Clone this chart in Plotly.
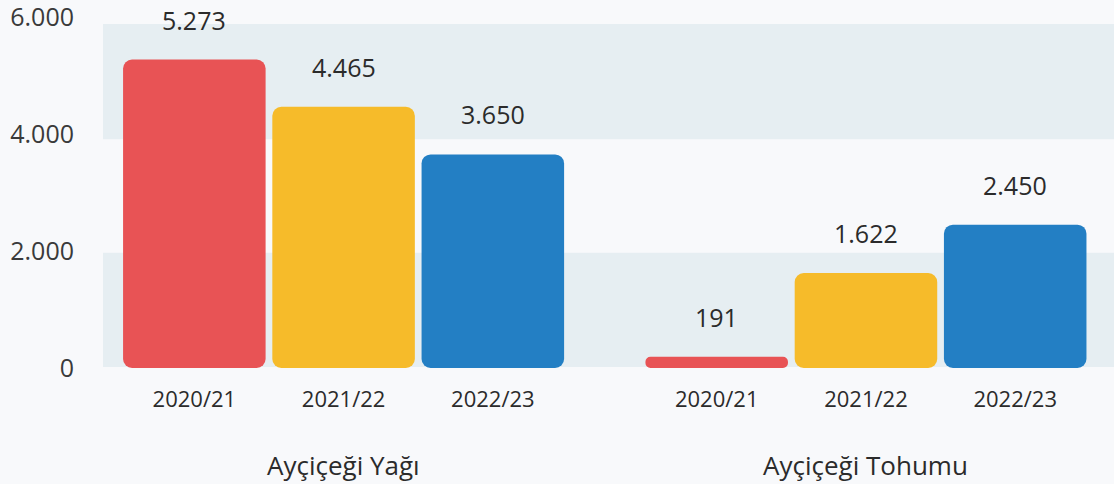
import plotly.graph_objects as go

groups = ["Ayçiçeği Yağı", "Ayçiçeği Tohumu"]
seasons = ["2020/21", "2021/22", "2022/23"]
values = {
    "2020/21": [5273, 191],
    "2021/22": [4465, 1622],
    "2022/23": [3650, 2450],
}
value_labels = {
    "2020/21": ["5.273", "191"],
    "2021/22": ["4.465", "1.622"],
    "2022/23": ["3.650", "2.450"],
}
colors = {"2020/21": "#e85355", "2021/22": "#f6bb2a", "2022/23": "#237fc4"}
y_ticks = [0, 2000, 4000, 6000]
y_tick_labels = ["0", "2.000", "4.000", "6.000"]

GROUP_STEP = 3.5
TEXT = "#2b2b2b"
FONT = "Open Sans"

fig = go.Figure()
tickvals, ticktext = [], []
annotations = []
for si, s in enumerate(seasons):
    xs = [gi * GROUP_STEP + si for gi in range(len(groups))]
    vals = values[s]
    # bar drawn downward from its value to zero (rounded corners at both ends)
    fig.add_trace(go.Bar(x=xs, y=[-v for v in vals], base=vals, width=0.955,
                         marker=dict(color=colors[s], line=dict(width=0), cornerradius=9),
                         hoverinfo="skip", showlegend=False))
    for x, v, lab in zip(xs, vals, value_labels[s]):
        annotations.append(dict(x=x, y=v, xref="x", yref="y", text=lab, showarrow=False,
                                yanchor="bottom", yshift=21,
                                font=dict(family=FONT, size=25, color=TEXT)))
    tickvals += xs
    ticktext += [s] * len(xs)

for gi, g in enumerate(groups):
    annotations.append(dict(x=gi * GROUP_STEP + 1, y=-0.277, xref="x", yref="paper", text=g,
                            showarrow=False, yanchor="middle",
                            font=dict(family=FONT, size=26, color=TEXT)))

band = "#e6eef2"
shapes = [
    dict(type="rect", xref="paper", yref="paper", x0=0, x1=1, y0=0.003, y1=0.328,
         fillcolor=band, line=dict(width=0), layer="below"),
    dict(type="rect", xref="paper", yref="paper", x0=0, x1=1, y0=0.652, y1=0.98,
         fillcolor=band, line=dict(width=0), layer="below"),
]

fig.update_layout(
    width=1114, height=484,
    margin=dict(l=103, r=0, t=17, b=116),
    paper_bgcolor="#f8f9fb", plot_bgcolor="#f8f9fb",
    barmode="overlay",
    shapes=shapes, annotations=annotations,
    xaxis=dict(range=[-0.612, 6.162], tickvals=tickvals, ticktext=ticktext,
               showgrid=False, zeroline=False, showline=False, ticks="",
               ticklabelstandoff=16,
               tickfont=dict(family=FONT, size=22, color=TEXT)),
    yaxis=dict(range=[0, 6000], tickvals=y_ticks, ticktext=y_tick_labels,
               showgrid=False, zeroline=False, showline=False, ticks="",
               ticklabelstandoff=28, ticklabeloverflow="allow",
               tickfont=dict(family=FONT, size=25, color="#3a3a3a")),
)

fig.write_html("out.html", config={"displayModeBar": False},
               post_script="document.body.style.margin='0';")
